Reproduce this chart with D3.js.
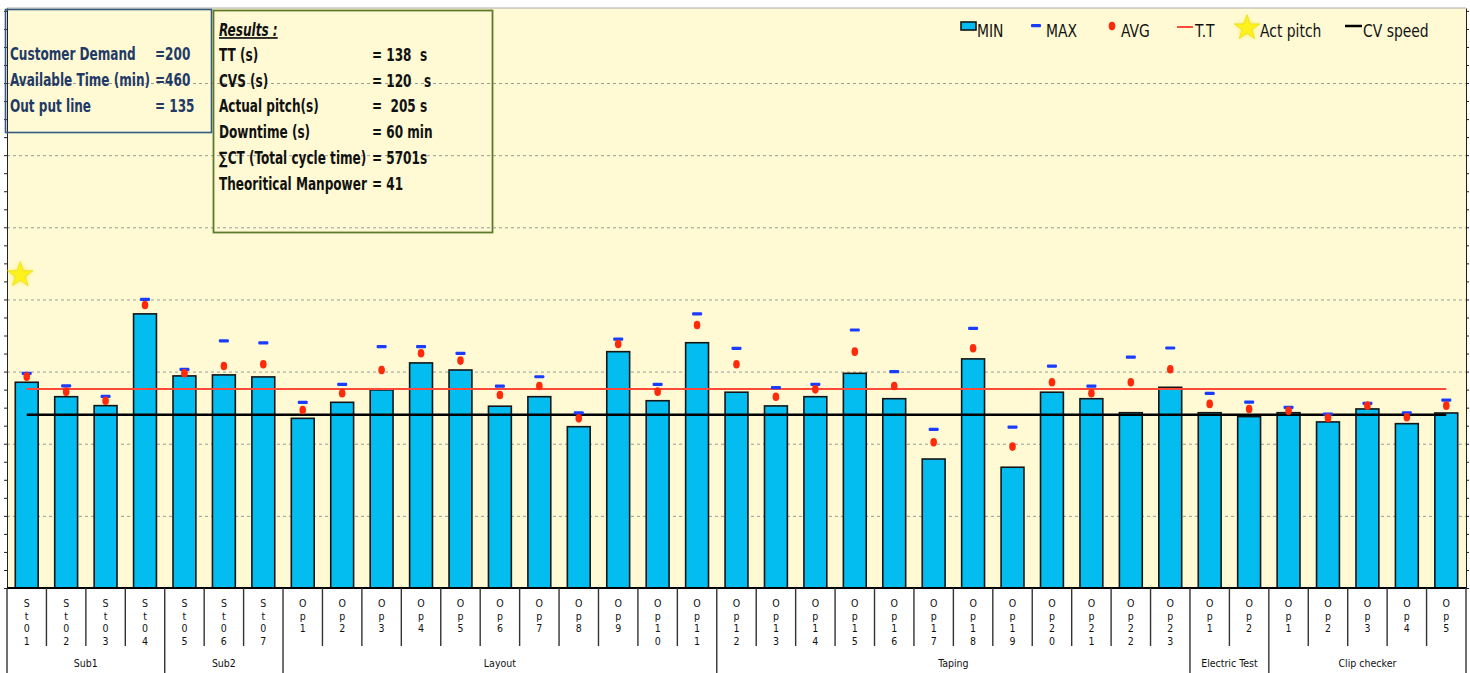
<!DOCTYPE html>
<meta charset="utf-8">
<head>
	<title>Line balance chart</title>
	<script src="https://d3js.org/d3.v7.min.js" charset="utf-8"></script>
</head>
<style type="text/css">
	body { margin: 0; background: #fff; }
	svg { display: block; }
	.narrow { font-family: "DejaVu Sans Condensed", "Liberation Sans", sans-serif; }
	.grid line { stroke: #9b9b9b; stroke-dasharray: 3,3; }
	.grid .domain { display: none; }
	.yaxis .domain, .yaxis line { stroke: #222; }
	.box text { font-weight: bold; font-size: 17px; white-space: pre; }
	.legend text { font-size: 17px; }
	.cat text { font-size: 10.5px; fill: #111; }
</style>
<body>
<script>
	// categories (stations / operators)
	var categories = ["St01","St02","St03","St04","St05","St06","St07",
		"Op1","Op2","Op3","Op4","Op5","Op6","Op7","Op8","Op9","Op10","Op11",
		"Op12","Op13","Op14","Op15","Op16","Op17","Op18","Op19","Op20","Op21","Op22","Op23",
		"Op1","Op2",
		"Op1","Op2","Op3","Op4","Op5"];
	var groupNames = ["Sub1", "Sub2", "Layout", "Taping", "Electric Test", "Clip checker"];
	var groupSizes = [4, 3, 11, 12, 2, 5];

	// cycle times (s)
	var minValues = [142.6,132.6,126.4,190,147,147.7,146.3,
		117.6,128.7,137.3,156,151.1,126,132.6,111.8,163.8,129.8,170,
		135.7,126.2,132.6,148.8,131.2,89.4,158.8,83.7,135.7,131.2,121.5,139.1,
		121.5,118.8,
		121.5,115.1,124.1,113.9,121.3];
	var maxValues = [148.8,140.2,132.9,200.1,151.6,171.4,170,
		128.7,141.2,167.3,167.3,162.7,140,146.5,121.5,172.6,141.2,190,
		166.2,138.9,141.2,178.9,150,110,180,111.6,153.9,140,160.1,166.4,
		135,128.9,
		125.3,120.6,128,121.5,130.3];
	var avgValues = [146.5,136.1,129.8,196.2,148.8,153.9,155.1,
		123.4,135,151.1,162.7,157.6,133.8,140,117.6,169.1,136.1,182.3,
		155.1,132.6,137.7,163.8,140,101,166.2,98,142.6,135,142.6,151.6,
		127.6,124.1,
		122.9,117.9,126.4,118.3,126.4];

	var taktTime = 138, cvSpeed = 120, actPitch = 217;

	var inputLabels = ["Customer Demand", "Available Time (min)", "Out put line"];
	var inputValues = ["=200", "=460", "= 135"];
	var resultLabels = ["TT (s)", "CVS (s)", "Actual pitch(s)", "Downtime (s)", "∑CT (Total cycle time)", "Theoritical Manpower"];
	var resultValues = ["= 138  s", "= 120   s", "=  205 s", "= 60 min", "= 5701s", "= 41"];

	var legendItems = ["MIN", "MAX", "AVG", "T.T", "Act pitch", "CV speed"];

	var width = 1470, height = 673;
	var plot = {left: 7, right: 1466, top: 8, bottom: 588};

	var svg = d3.select("body").append("svg")
		.attr("width", width)
		.attr("height", height);

	var defs = svg.append("defs");
	defs.append("filter").attr("id", "glow")
		.attr("x", "-50%").attr("y", "-50%").attr("width", "200%").attr("height", "200%")
		.append("feGaussianBlur").attr("stdDeviation", 2);

	var x = d3.scaleBand()
		.domain(d3.range(categories.length))
		.range([plot.left, plot.right])
		.paddingInner(0.42)
		.paddingOuter(0.21);

	var y = d3.scaleLinear()
		.domain([0, 402])
		.range([plot.bottom, plot.top]);

	function cx(i) { return x(i) + x.bandwidth() / 2; }
	function edge(i) { return plot.left + x.step() * i; }

	// squeezed text, the source picture is narrow
	function sqText(g, px, py, str, sx) {
		return g.append("text")
			.attr("transform", "translate(" + px + "," + py + ") scale(" + sx + ",1)")
			.text(str);
	}

	// background
	svg.append("rect")
		.attr("x", plot.left).attr("y", plot.top)
		.attr("width", plot.right - plot.left).attr("height", plot.bottom - plot.top)
		.attr("fill", "#fffad4");

	svg.append("line")
		.attr("x1", plot.left).attr("x2", plot.right)
		.attr("y1", plot.top).attr("y2", plot.top)
		.attr("stroke", "#aaa");

	// gridlines
	svg.append("g")
		.attr("class", "grid")
		.attr("transform", "translate(" + plot.left + ",0)")
		.call(d3.axisRight(y).tickValues(d3.range(50, 400, 50)).tickSize(plot.right - plot.left).tickFormat(""));

	// y axes (no labels, minor ticks only)
	svg.append("g")
		.attr("class", "yaxis")
		.attr("transform", "translate(" + plot.left + ",0)")
		.call(d3.axisLeft(y).tickValues(d3.range(0, 402, 12.5)).tickSizeInner(3).tickSizeOuter(0).tickFormat(""));
	svg.append("g")
		.attr("class", "yaxis")
		.attr("transform", "translate(" + plot.right + ",0)")
		.call(d3.axisRight(y).tickValues(d3.range(0, 402, 12.5)).tickSizeInner(3).tickSizeOuter(0).tickFormat(""));

	// MIN bars
	svg.append("g").selectAll("rect")
		.data(minValues)
	 .enter().append("rect")
		.attr("x", function(d, i) { return x(i); })
		.attr("y", function(d) { return y(d); })
		.attr("width", x.bandwidth())
		.attr("height", function(d) { return y(0) - y(d); })
		.attr("fill", "#03bdf0")
		.attr("stroke", "#151515")
		.attr("stroke-width", 1.6);

	// T.T and CV speed lines
	svg.append("line")
		.attr("x1", cx(0)).attr("x2", cx(categories.length - 1))
		.attr("y1", y(taktTime)).attr("y2", y(taktTime))
		.attr("stroke", "#ff4a3a").attr("stroke-width", 2);
	svg.append("line")
		.attr("x1", cx(0)).attr("x2", cx(categories.length - 1))
		.attr("y1", y(cvSpeed)).attr("y2", y(cvSpeed))
		.attr("stroke", "#000").attr("stroke-width", 2.5);

	// MAX marks
	svg.append("g").selectAll("rect")
		.data(maxValues)
	 .enter().append("rect")
		.attr("x", function(d, i) { return cx(i) - 5; })
		.attr("y", function(d) { return y(d) - 1.5; })
		.attr("width", 10)
		.attr("height", 3.2)
		.attr("rx", 1)
		.attr("fill", "#1a3cff");

	// AVG points
	svg.append("g").selectAll("ellipse")
		.data(avgValues)
	 .enter().append("ellipse")
		.attr("cx", function(d, i) { return cx(i); })
		.attr("cy", function(d) { return y(d); })
		.attr("rx", 3.3)
		.attr("ry", 4.3)
		.attr("fill", "#ff2a0a");

	// Act pitch star
	var star = d3.symbol().type(d3.symbolStar).size(200);
	function drawStar(g, px, py) {
		g.append("path").attr("d", star).attr("transform", "translate(" + px + "," + py + ")")
			.attr("fill", "#f4ea30").attr("filter", "url(#glow)");
		g.append("path").attr("d", star).attr("transform", "translate(" + px + "," + py + ")")
			.attr("fill", "#fff21a").attr("stroke", "#e8dc20").attr("stroke-width", 0.8);
	}
	drawStar(svg, x(0) + 5, y(actPitch));

	// baseline
	svg.append("line")
		.attr("x1", plot.left).attr("x2", plot.right)
		.attr("y1", plot.bottom).attr("y2", plot.bottom)
		.attr("stroke", "#000").attr("stroke-width", 2);

	// category axis
	var cat = svg.append("g").attr("class", "cat narrow");
	var groupEnds = [];
	groupSizes.reduce(function(acc, n) { groupEnds.push(acc + n); return acc + n; }, 0);

	for (var i = 0; i <= categories.length; i++) {
		var long = i === 0 || groupEnds.indexOf(i) >= 0;
		cat.append("line")
			.attr("x1", edge(i)).attr("x2", edge(i))
			.attr("y1", plot.bottom).attr("y2", long ? height : 646)
			.attr("stroke", "#333").attr("stroke-width", 1.4);
	}

	categories.forEach(function(name, i) {
		name.split("").forEach(function(ch, k) {
			cat.append("text")
				.attr("x", cx(i))
				.attr("y", 607 + k * 12.7)
				.attr("text-anchor", "middle")
				.text(ch);
		});
	});

	var start = 0;
	groupNames.forEach(function(g, j) {
		var end = start + groupSizes[j];
		cat.append("text")
			.attr("x", (edge(start) + edge(end)) / 2)
			.attr("y", 667)
			.attr("text-anchor", "middle")
			.text(g);
		start = end;
	});

	// input box
	var box1 = svg.append("g").attr("class", "box narrow").attr("fill", "#1f3a66");
	box1.append("rect")
		.attr("x", 5.5).attr("y", 9.5).attr("width", 206).attr("height", 123)
		.attr("fill", "none").attr("stroke", "#355a82").attr("stroke-width", 1.6);
	inputLabels.forEach(function(t, i) {
		sqText(box1, 10, 60 + i * 26, t, 0.79);
		sqText(box1, 155, 60 + i * 26, inputValues[i], 0.79);
	});

	// results box
	var box2 = svg.append("g").attr("class", "box narrow").attr("fill", "#111");
	box2.append("rect")
		.attr("x", 213.5).attr("y", 10.5).attr("width", 279).attr("height", 222)
		.attr("fill", "none").attr("stroke", "#5e7a2e").attr("stroke-width", 1.8);
	sqText(box2, 219, 36, "Results :", 0.79)
		.attr("font-style", "italic")
		.attr("text-decoration", "underline");
	resultLabels.forEach(function(t, i) {
		sqText(box2, 219, 61 + i * 25.7, t, 0.79);
		sqText(box2, 372, 61 + i * 25.7, resultValues[i], 0.79);
	});

	// legend
	var legend = svg.append("g").attr("class", "legend narrow").attr("fill", "#111");
	var lx = [961, 1031, 1107, 1177, 1234, 1345];
	var tx = [977, 1046, 1121, 1195, 1260, 1363];
	legendItems.forEach(function(name, i) {
		var g = legend.append("g");
		if (name === "MIN") {
			g.append("rect").attr("x", lx[i]).attr("y", 22).attr("width", 15).attr("height", 8)
				.attr("fill", "#03bdf0").attr("stroke", "#151515").attr("stroke-width", 1.6);
		} else if (name === "MAX") {
			g.append("rect").attr("x", lx[i]).attr("y", 24).attr("width", 10).attr("height", 3.2)
				.attr("rx", 1).attr("fill", "#1a3cff");
		} else if (name === "AVG") {
			g.append("ellipse").attr("cx", lx[i] + 5).attr("cy", 26).attr("rx", 3.3).attr("ry", 4.3)
				.attr("fill", "#ff2a0a");
		} else if (name === "T.T") {
			g.append("line").attr("x1", lx[i]).attr("x2", lx[i] + 16).attr("y1", 27).attr("y2", 27)
				.attr("stroke", "#ff4a3a").attr("stroke-width", 2);
		} else if (name === "Act pitch") {
			drawStar(g, lx[i] + 13, 28);
		} else {
			g.append("line").attr("x1", lx[i]).attr("x2", lx[i] + 17).attr("y1", 26).attr("y2", 26)
				.attr("stroke", "#000").attr("stroke-width", 2.5);
		}
		sqText(g, tx[i], 37, name, 0.91);
	});
</script>
</body>
